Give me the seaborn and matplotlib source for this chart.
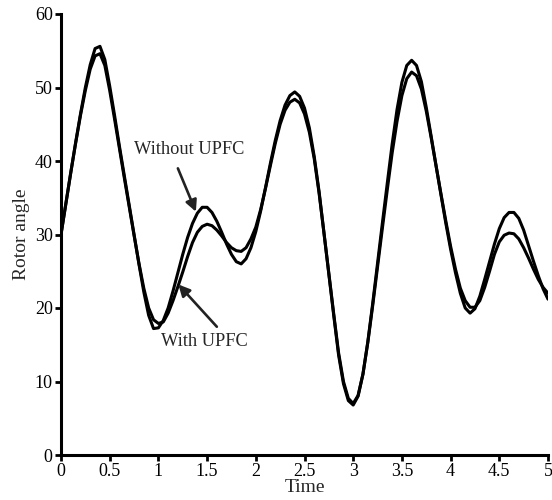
import matplotlib
matplotlib.use("Agg")
import matplotlib.pyplot as plt
import seaborn as sns
import pandas as pd

time = [0.00, 0.05, 0.10, 0.15, 0.20, 0.25, 0.30, 0.35, 0.40, 0.45,
        0.50, 0.55, 0.60, 0.65, 0.70, 0.75, 0.80, 0.85, 0.90, 0.95,
        1.00, 1.05, 1.10, 1.15, 1.20, 1.25, 1.30, 1.35, 1.40, 1.45,
        1.50, 1.55, 1.60, 1.65, 1.70, 1.75, 1.80, 1.85, 1.90, 1.95,
        2.00, 2.05, 2.10, 2.15, 2.20, 2.25, 2.30, 2.35, 2.40, 2.45,
        2.50, 2.55, 2.60, 2.65, 2.70, 2.75, 2.80, 2.85, 2.90, 2.95,
        3.00, 3.05, 3.10, 3.15, 3.20, 3.25, 3.30, 3.35, 3.40, 3.45,
        3.50, 3.55, 3.60, 3.65, 3.70, 3.75, 3.80, 3.85, 3.90, 3.95,
        4.00, 4.05, 4.10, 4.15, 4.20, 4.25, 4.30, 4.35, 4.40, 4.45,
        4.50, 4.55, 4.60, 4.65, 4.70, 4.75, 4.80, 4.85, 4.90, 4.95,
        5.00]

without_upfc = [30.0, 34.2, 38.4, 42.5, 46.4, 50.0, 53.1, 55.3, 55.6, 53.8,
                50.2, 46.2, 42.0, 38.0, 34.0, 30.0, 26.0, 22.2, 19.0, 17.2,
                17.3, 18.3, 20.0, 22.3, 24.8, 27.3, 29.6, 31.5, 32.9, 33.7,
                33.7, 33.0, 31.8, 30.3, 28.7, 27.3, 26.3, 26.0, 26.7, 28.2,
                30.4, 33.2, 36.4, 39.7, 42.8, 45.5, 47.6, 48.9, 49.4, 48.8,
                47.2, 44.5, 40.6, 35.8, 30.2, 24.6, 19.0, 13.6, 9.7, 7.4,
                6.8, 8.0, 11.0, 15.4, 20.6, 26.1, 31.6, 37.0, 42.3, 47.0,
                50.7, 53.0, 53.7, 53.0, 50.8, 47.3, 43.4, 39.4, 35.5, 31.6,
                28.0, 24.8, 22.0, 20.0, 19.3, 19.9, 21.6, 23.9, 26.3, 28.7,
                30.8, 32.3, 33.0, 33.0, 32.2, 30.6, 28.5, 26.4, 24.4, 22.6,
                21.2]

with_upfc = [30.0, 34.2, 38.4, 42.4, 46.2, 49.6, 52.5, 54.3, 54.6, 53.0,
             49.6, 45.7, 41.7, 37.7, 33.8, 29.9, 26.1, 22.7, 20.0, 18.4,
             17.9, 18.1, 19.3, 21.0, 22.9, 24.9, 27.0, 28.9, 30.3, 31.1,
             31.4, 31.2, 30.6, 29.8, 28.9, 28.2, 27.8, 27.7, 28.2, 29.4,
             31.0, 33.4, 36.3, 39.4, 42.4, 45.0, 46.9, 48.0, 48.4, 47.9,
             46.4, 43.9, 40.3, 35.6, 30.2, 24.7, 19.2, 13.9, 10.0, 7.7,
             7.0, 8.1, 11.0, 15.3, 20.3, 25.6, 30.9, 36.1, 41.1, 45.4,
             48.9, 51.2, 52.1, 51.6, 49.8, 46.8, 43.2, 39.4, 35.6, 31.9,
             28.4, 25.3, 22.7, 21.0, 20.1, 20.1, 21.0, 22.8, 25.0, 27.3,
             29.0, 29.9, 30.2, 30.1, 29.4, 28.2, 26.8, 25.3, 23.9, 22.8,
             22.0]

x_ticks = [0, 0.5, 1, 1.5, 2, 2.5, 3, 3.5, 4, 4.5, 5]
x_tick_labels = ["0", "0.5", "1", "1.5", "2", "2.5", "3", "3.5", "4", "4.5", "5"]
y_ticks = [0, 10, 20, 30, 40, 50, 60]

sns.set_style("ticks")
plt.rcParams["font.family"] = ["Liberation Serif", "DejaVu Serif"]

df = pd.DataFrame({
    "Time": time * 2,
    "Rotor angle": without_upfc + with_upfc,
    "Case": ["Without UPFC"] * len(time) + ["With UPFC"] * len(time),
})

fig = plt.figure(figsize=(5.52, 5.0), dpi=100)
ax = fig.add_axes([61 / 552, 45 / 500, 487 / 552, 441 / 500])

sns.lineplot(data=df, x="Time", y="Rotor angle", units="Case", estimator=None,
             color="black", linewidth=2.2, ax=ax, legend=False,
             solid_joinstyle="round", solid_capstyle="round")

ax.set_xlim(0, 5)
ax.set_ylim(0, 60)
ax.set_xticks(x_ticks)
ax.set_xticklabels(x_tick_labels)
ax.set_yticks(y_ticks)

for side in ["top", "right"]:
    ax.spines[side].set_visible(False)
for side in ["left", "bottom"]:
    ax.spines[side].set_linewidth(2.2)
    ax.spines[side].set_color("black")

ax.tick_params(axis="both", direction="out", length=4.5, width=2.0,
               colors="black", labelsize=13, pad=1.5)
ax.set_xlabel("Time", fontsize=14, labelpad=-1)
ax.set_ylabel("Rotor angle", fontsize=14, labelpad=3)

arrow_style = dict(arrowstyle="-|>", color="#222222", lw=1.9,
                   mutation_scale=17, shrinkA=0, shrinkB=0)

ax.text(1.32, 41.6, "Without UPFC", ha="center", va="center", fontsize=13.2)
ax.annotate("", xy=(1.385, 33.1), xytext=(1.20, 39.0), arrowprops=arrow_style)

ax.text(1.47, 15.4, "With UPFC", ha="center", va="center", fontsize=13.2)
ax.annotate("", xy=(1.205, 23.2), xytext=(1.60, 17.45), arrowprops=arrow_style)

fig.savefig("out.png", dpi=100)
